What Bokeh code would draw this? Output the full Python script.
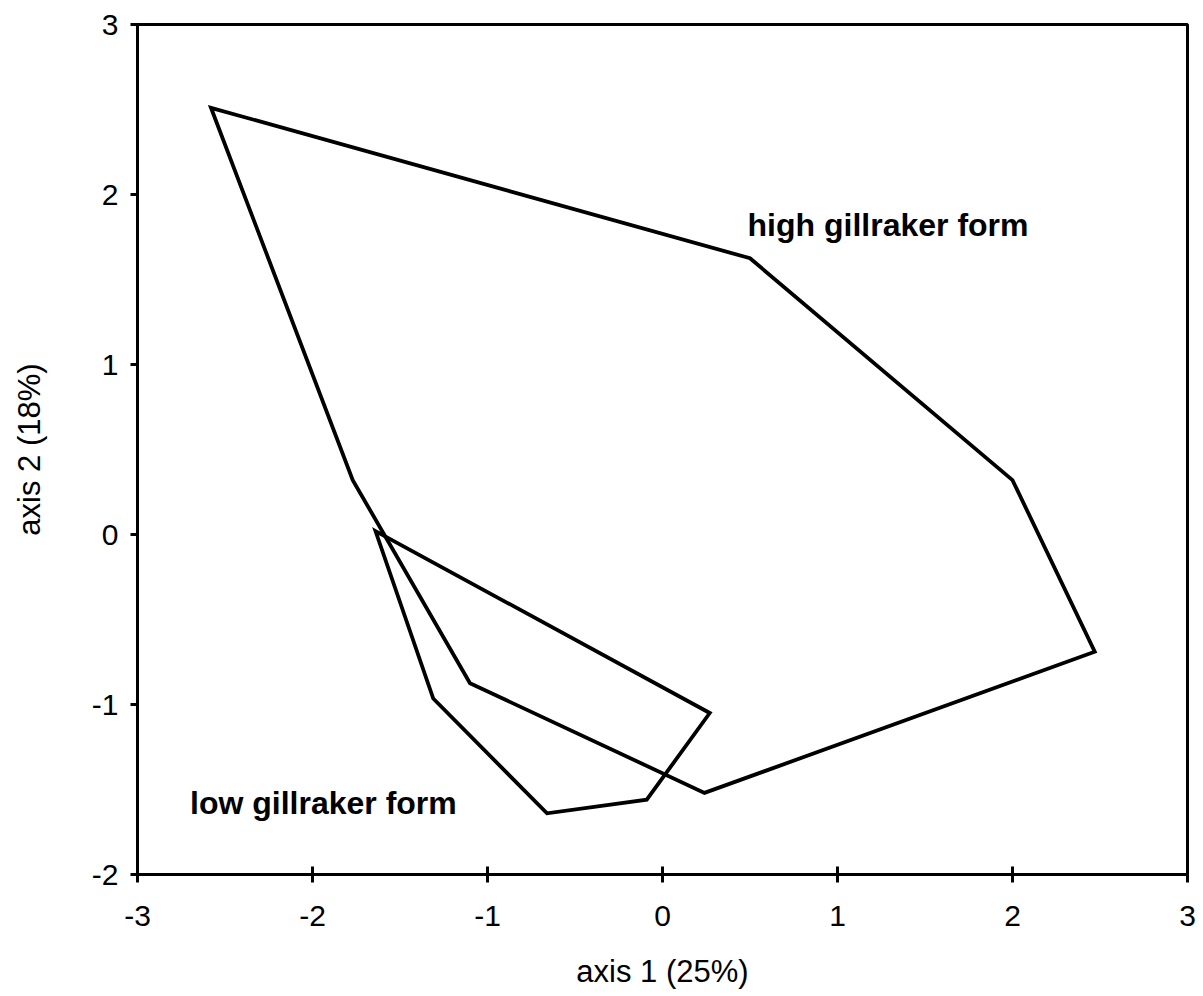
from bokeh.plotting import figure
from bokeh.models import Range1d, FixedTicker, Label
from bokeh.embed import file_html
from bokeh.resources import INLINE

# Convex hulls of the two gillraker forms on the first two ordination axes
high_axis1 = [-2.58, 0.50, 2.00, 2.47, 0.24, -1.10, -1.77]
high_axis2 = [2.51, 1.625, 0.32, -0.69, -1.52, -0.875, 0.32]

low_axis1 = [-1.64, 0.27, -0.09, -0.66, -1.31]
low_axis2 = [0.02, -1.05, -1.56, -1.64, -0.965]

x_ticks = [-3, -2, -1, 0, 1, 2, 3]
y_ticks = [-2, -1, 0, 1, 2, 3]

FONT = "Liberation Sans"

p = figure(
    width=1203, height=996,
    x_range=Range1d(-3, 3), y_range=Range1d(-2, 3),
    output_backend="svg", toolbar_location=None,
    min_border_left=137, min_border_right=16,
    min_border_top=24, min_border_bottom=122,
    background_fill_color="white", border_fill_color="white",
)
p.grid.visible = False
p.outline_line_color = "black"
p.outline_line_width = 3

for xs, ys in ((high_axis1, high_axis2), (low_axis1, low_axis2)):
    p.patch(xs, ys, fill_color=None, line_color="black",
            line_width=3.8, line_join="miter")

p.add_layout(Label(x=0.486, y=1.82, text="high gillraker form",
                   text_font=FONT, text_font_style="bold",
                   text_font_size="32px", text_color="black",
                   text_baseline="alphabetic"))
p.add_layout(Label(x=-2.70, y=-1.58, text="low gillraker form",
                   text_font=FONT, text_font_style="bold",
                   text_font_size="32px", text_color="black",
                   text_baseline="alphabetic"))

p.xaxis.ticker = FixedTicker(ticks=x_ticks)
p.yaxis.ticker = FixedTicker(ticks=y_ticks)
# plain hyphen for negative tick labels
p.xaxis.major_label_overrides = {t: str(t) for t in x_ticks}
p.yaxis.major_label_overrides = {t: str(t) for t in y_ticks}
p.xaxis.axis_label = "axis 1 (25%)"
p.yaxis.axis_label = "axis 2 (18%)"

for ax in (p.xaxis, p.yaxis):
    ax.axis_line_width = 3
    ax.axis_line_color = "black"
    ax.major_tick_line_width = 3
    ax.major_tick_line_color = "black"
    ax.minor_tick_line_color = None
    ax.major_label_text_font = FONT
    ax.major_label_text_font_size = "30px"
    ax.major_label_text_color = "black"
    ax.axis_label_text_font = FONT
    ax.axis_label_text_font_size = "31px"
    ax.axis_label_text_font_style = "normal"
    ax.axis_label_text_color = "black"

p.xaxis.major_tick_in = 8
p.xaxis.major_tick_out = 8
p.xaxis.major_label_standoff = 23
p.xaxis.axis_label_standoff = 25

p.yaxis.major_tick_in = 0
p.yaxis.major_tick_out = 7
p.yaxis.major_label_standoff = 12
p.yaxis.axis_label_standoff = 42

open("out.html", "w").write(file_html(p, INLINE))
